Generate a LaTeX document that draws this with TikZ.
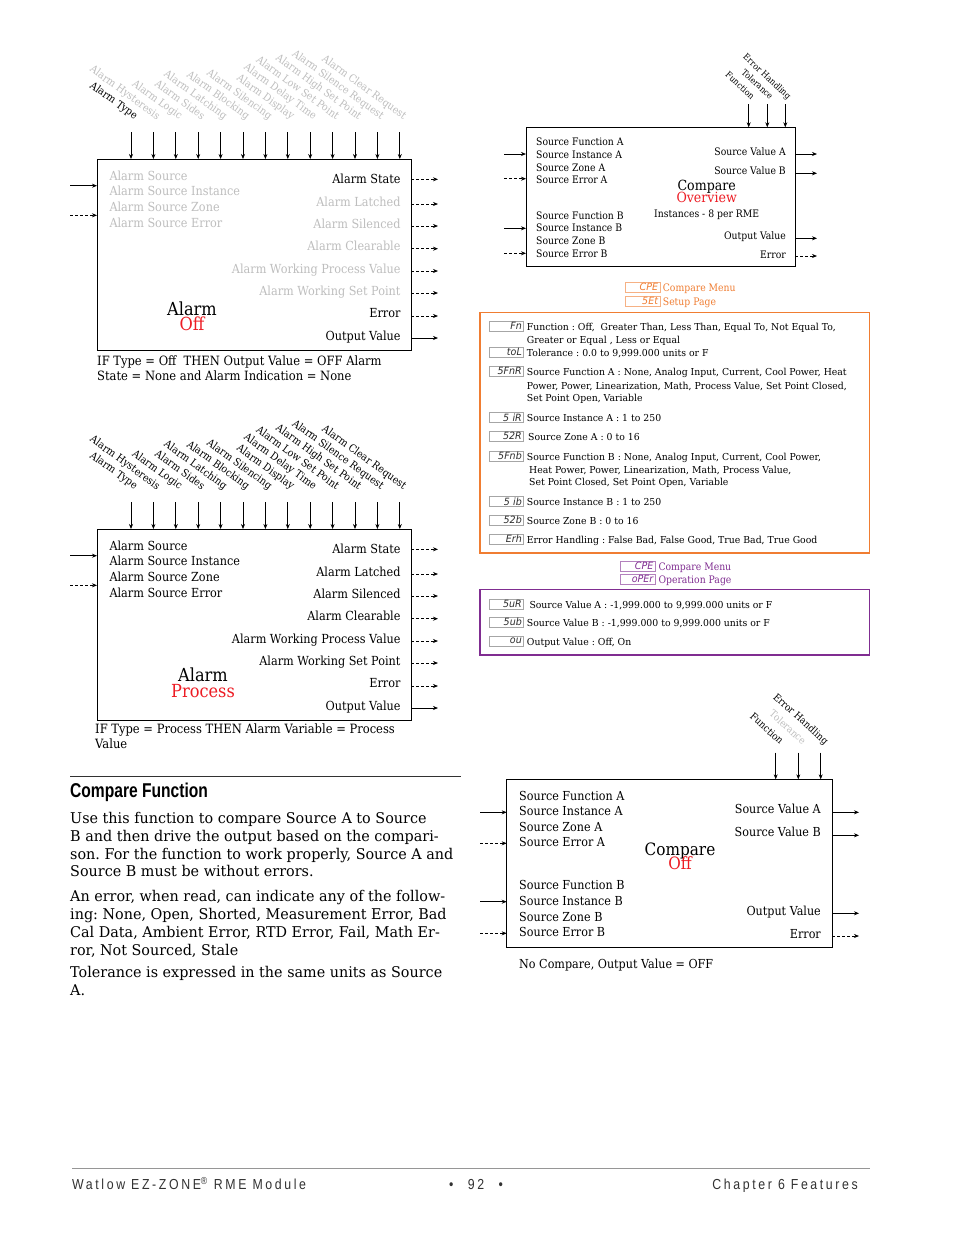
\documentclass[tikz,border=0pt]{standalone}
\usepackage{fontspec}
\usetikzlibrary{arrows.meta}
\setmainfont{DejaVu Serif}[FakeStretch=0.9]
\newfontfamily\wideserif{DejaVu Serif}[FakeStretch=0.97]
\newfontfamily\hdfont{Liberation Sans}[FakeStretch=0.78]
\newfontfamily\ftfont{Liberation Sans}[FakeStretch=0.85,LetterSpace=18]
\newfontfamily\segfont{DejaVu Sans}[FakeStretch=0.95]
\definecolor{lgray}{RGB}{190,190,190}
\definecolor{ored}{RGB}{237,28,36}
\definecolor{orng}{RGB}{240,125,50}
\definecolor{purp}{RGB}{128,45,145}
\definecolor{ftgray}{RGB}{150,150,150}
\definecolor{ftxt}{RGB}{50,50,50}
\definecolor{segc}{RGB}{45,45,45}
\newcommand\fsz[1]{\fontsize{#1}{#1}\selectfont}
\frenchspacing
\tikzset{
  box/.style={draw, line width=0.8pt, inner sep=0, outer sep=0, anchor=north west},
  arr/.style={-{Stealth[length=5pt,width=4pt]}, line width=0.7pt},
  darr/.style={arr, dash pattern=on 3pt off 2pt},
  lt/.style={anchor=west, inner sep=0, text height=0.92em, text depth=0.06em},
  rt/.style={lt, anchor=east},
  ct/.style={lt, anchor=center},
  rla/.style={anchor=base east, rotate=-36, inner sep=0, font=\fsz{10.6}},
  rlb/.style={anchor=base east, rotate=-43, inner sep=0, font=\fsz{8.8}},
  rlc/.style={anchor=base east, rotate=-42, inner sep=0, font=\fsz{10}},
  codebox/.style={draw=gray!70, line width=0.4pt, inner sep=0, minimum width=34pt, minimum height=10pt, text width=31pt, align=right, text=segc, font=\segfont\itshape\fsz{10}},
  hbox/.style={codebox, minimum width=35pt},
  itm/.style={lt, font=\wideserif\fsz{9.6}},
}
\begin{document}
\begin{tikzpicture}[x=1pt,y=-1pt]
\useasboundingbox[fill=white] (0,0) rectangle (954,1235);

% ---------------- Alarm blocks ----------------
\foreach \b/\dy/\gc in {1/0/lgray,2/370/black}{
\begin{scope}[yshift=-\dy pt]
  \node[box, minimum width=314pt, minimum height=191pt] (al\b) at (97,159) {};
  \foreach \i/\x/\cl/\tx in {1/131/black/Alarm Type, 2/153.4/\gc/Alarm Hysteresis, 3/175.8/\gc/Alarm Logic, 4/198.2/\gc/Alarm Sides, 5/220.6/\gc/Alarm Latching, 6/243/\gc/Alarm Blocking, 7/265.4/\gc/Alarm Silencing, 8/287.8/\gc/Alarm Display, 9/310.2/\gc/Alarm Delay Time, 10/332.6/\gc/Alarm Low Set Point, 11/355/\gc/Alarm High Set Point, 12/377.4/\gc/Alarm Silence Request, 13/399.8/\gc/Alarm Clear Request}{
    \coordinate (ta\b-\i) at (\x,132);
    \draw[arr] (ta\b-\i) -- (ta\b-\i |- al\b.north);
    \node[rla, text=\cl] (la\b-\i) at (\x+3.5,120) {\tx};
  }
  \foreach \n/\y/\tx in {1/176/Alarm Source, 2/191.5/Alarm Source Instance, 3/207/Alarm Source Zone, 4/223/Alarm Source Error}{
    \node[lt, font=\fsz{12.5}, text=\gc] (li\b-\n) at (109.3,\y) {\tx};
  }
  \coordinate (ia\b) at (70,185.7);
  \coordinate (ib\b) at (70,215.3);
  \draw[arr] (ia\b) -- (ia\b -| al\b.west);
  \draw[darr] (ib\b) -- (ib\b -| al\b.west);
  \foreach \n/\ty/\ay/\cl/\tx/\st in {1/179/179.3/black/Alarm State/darr, 2/202/204/\gc/Alarm Latched/darr, 3/224/226/\gc/Alarm Silenced/darr, 4/246/248.7/\gc/Alarm Clearable/darr, 5/269/271/\gc/Alarm Working Process Value/darr, 6/291/293/\gc/Alarm Working Set Point/darr, 7/313/316/black/Error/darr, 8/336/338/black/Output Value/arr}{
    \node[rt, font=\fsz{12.5}, text=\cl] (ro\b-\n) at (400.7,\ty) {\tx};
    \coordinate (oe\b-\n) at (438,\ay);
    \draw[\st] (oe\b-\n -| al\b.east) -- (oe\b-\n);
  }
\end{scope}}

\node[ct, font=\fsz{18}] (aln1) at (192,311) {Alarm};
\node[ct, font=\fsz{18}, text=ored] (alo1) at (192,326) {Off};
\node[lt, font=\fsz{12.8}] (cap1a) at (97,361) {IF Type = Off~ THEN Output Value = OFF Alarm};
\node[lt, font=\fsz{12.8}] (cap1b) at (97,376) {State = None and Alarm Indication = None};

\node[ct, font=\fsz{18}] (aln2) at (203,677) {Alarm};
\node[ct, font=\fsz{18}, text=ored] (alo2) at (203,692.7) {Process};
\node[lt, font=\fsz{12.8}] (cap2a) at (95,729) {IF Type = Process THEN Alarm Variable = Process};
\node[lt, font=\fsz{12.8}] (cap2b) at (95,744) {Value};

% ---------------- Compare overview (top right) ----------------
\node[box, minimum width=269.3pt, minimum height=138.7pt] (cp1) at (526,127.3) {};
\foreach \n/\x/\cl/\tx in {1/748.7/black/Function, 2/767.3/black/Tolerance, 3/785.3/black/Error Handling}{
  \coordinate (tc1-\n) at (\x,104);
  \draw[arr] (tc1-\n) -- (tc1-\n |- cp1.north);
  \node[rlb, text=\cl] (lc1-\n) at (\x+2.5,100) {\tx};
}
\foreach \n/\y/\tx in {1/140.7/Source Function A, 2/153.7/Source Instance A, 3/166.7/Source Zone A, 4/178.7/Source Error A, 5/214.7/Source Function B, 6/227.3/Source Instance B, 7/240.3/Source Zone B, 8/253.3/Source Error B}{
  \node[lt, font=\fsz{10.3}] (cl1-\n) at (536,\y) {\tx};
}
\foreach \n/\y/\st in {1/154/arr, 2/178.7/darr, 3/228.3/arr, 4/253.3/darr}{
  \coordinate (ci1-\n) at (504,\y);
  \draw[\st] (ci1-\n) -- (ci1-\n -| cp1.west);
}
\foreach \n/\ty/\ay/\tx/\st in {1/151/154/Source Value A/arr, 2/170.3/173.3/Source Value B/arr, 3/235.3/238.3/Output Value/arr, 4/254.3/256/Error/darr}{
  \node[rt, font=\fsz{10.3}] (cr1-\n) at (786,\ty) {\tx};
  \coordinate (co1-\n) at (817,\ay);
  \draw[\st] (co1-\n -| cp1.east) -- (co1-\n);
}
\node[ct, font=\fsz{14}] (cpn1) at (706.7,185.7) {Compare};
\node[ct, font=\fsz{14}, text=ored] (cpo1) at (706.7,198.3) {Overview};
\node[ct, font=\fsz{10.3}] (cpi1) at (706.7,212.7) {Instances - 8 per RME};

% ---------------- Orange setup menu ----------------
\node[hbox, draw=orng!60, text=orng] (hc1) at (642.5,287.3) {CPE};
\node[hbox, draw=orng!60, text=orng] (hc2) at (642.5,300.7) {5Et};
\node[itm, text=orng, font=\fsz{10.3}] (ht1) at (662.7,287.3) {Compare Menu};
\node[itm, text=orng, font=\fsz{10.3}] (ht2) at (662.7,300.7) {Setup Page};
\draw[orng, line width=1.5pt] (480,312.3) rectangle (869.5,553);
\foreach \n/\y/\cd in {1/325.7/Fn, 2/352.3/toL, 3/371.3/5FnR, 4/417.3/5 iR, 5/436/52R, 6/455.7/5Fnb, 7/501.3/5 ib, 8/520/52b, 9/539/Erh}{
  \node[codebox] (oc\n) at (506.3,\y) {\cd};
}
\foreach \n/\x/\y/\tx in {1/526.7/325.7/{Function : Off,~ Greater Than, Less Than, Equal To, Not Equal To,}, 2/526.7/338.7/{Greater or Equal , Less or Equal}, 3/526.7/352.3/{Tolerance : 0.0 to 9,999.000 units or F}, 4/526.7/371.3/{Source Function A : None, Analog Input, Current, Cool Power, Heat}, 5/526.7/384.7/{Power, Power, Linearization, Math, Process Value, Set Point Closed,}, 6/526.7/397.3/{Set Point Open, Variable}, 7/526.7/417.3/{Source Instance A : 1 to 250}, 8/528/436/{Source Zone A : 0 to 16}, 9/526.7/455.7/{Source Function B : None, Analog Input, Current, Cool Power,}, 10/529/468.7/{Heat Power, Power, Linearization, Math, Process Value,}, 11/529/481.3/{Set Point Closed, Set Point Open, Variable}, 12/526.7/501.3/{Source Instance B : 1 to 250}, 13/526.7/520/{Source Zone B : 0 to 16}, 14/526.7/539/{Error Handling : False Bad, False Good, True Bad, True Good}}{
  \node[itm] (ot\n) at (\x,\y) {\tx};
}

% ---------------- Purple operation menu ----------------
\node[hbox, draw=purp!60, text=purp] (pc1) at (637.8,565.7) {CPE};
\node[hbox, draw=purp!60, text=purp] (pc2) at (637.8,579) {oPEr};
\node[itm, text=purp, font=\fsz{10.3}] (pt1) at (658.3,565.7) {Compare Menu};
\node[itm, text=purp, font=\fsz{10.3}] (pt2) at (658.3,579) {Operation Page};
\draw[purp, line width=1.5pt] (480,589.3) rectangle (869.3,655);
\foreach \n/\y/\cd in {1/604.3/5uR, 2/621.7/5ub, 3/640.7/ou}{
  \node[codebox] (qc\n) at (506.3,\y) {\cd};
}
\node[itm] (qt1) at (529.3,604.3) {Source Value A : -1,999.000 to 9,999.000 units or F};
\node[itm] (qt2) at (526.7,621.7) {Source Value B : -1,999.000 to 9,999.000 units or F};
\node[itm] (qt3) at (526.7,640.7) {Output Value : Off, On};

% ---------------- Compare Off (bottom right) ----------------
\node[box, minimum width=325.6pt, minimum height=168pt] (cp2) at (506.7,779.3) {};
\foreach \n/\x/\cl/\tx in {1/775.7/black/Function, 2/798.3/lgray/Tolerance, 3/820.7/black/Error Handling}{
  \coordinate (tc2-\n) at (\x,752.7);
  \draw[arr] (tc2-\n) -- (tc2-\n |- cp2.north);
  \node[rlc, text=\cl] (lc2-\n) at (\x+4,745) {\tx};
}
\foreach \n/\y/\tx in {1/796/Source Function A, 2/811/Source Instance A, 3/827/Source Zone A, 4/842/Source Error A, 5/885/Source Function B, 6/901/Source Instance B, 7/917/Source Zone B, 8/932/Source Error B}{
  \node[lt, font=\fsz{12.4}] (cl2-\n) at (519,\y) {\tx};
}
\foreach \n/\y/\st in {1/812.3/arr, 2/843.3/darr, 3/901.7/arr, 4/933.3/darr}{
  \coordinate (ci2-\n) at (480,\y);
  \draw[\st] (ci2-\n) -- (ci2-\n -| cp2.west);
}
\foreach \n/\ty/\ay/\tx/\st in {1/808.7/812.3/Source Value A/arr, 2/832/835.3/Source Value B/arr, 3/911/913.3/Output Value/arr, 4/934/936/Error/darr}{
  \node[rt, font=\fsz{12.4}] (cr2-\n) at (821,\ty) {\tx};
  \coordinate (co2-\n) at (859,\ay);
  \draw[\st] (co2-\n -| cp2.east) -- (co2-\n);
}
\node[ct, font=\fsz{17}] (cpn2) at (680,851) {Compare};
\node[ct, font=\fsz{17}, text=ored] (cpo2) at (680,865) {Off};
\node[lt, font=\fsz{12.4}] (cap3) at (519,964) {No Compare, Output Value = OFF};

% ---------------- Compare Function text ----------------
\draw[ftxt, line width=1pt] (70,776) -- (461,776);
\node[lt, font=\hdfont\bfseries\fsz{20}] (hd) at (70,793.3) {Compare Function};
\foreach \n/\y/\tx in {1/819.3/{Use this function to compare Source A to Source}, 2/837/{B and then drive the output based on the compari-}, 3/855/{son. For the function to work properly, Source A and}, 4/872.3/{Source B must be without errors.}, 5/896.7/{An error, when read, can indicate any of the follow-}, 6/914.7/{ing: None, Open, Shorted, Measurement Error, Bad}, 7/932.7/{Cal Data, Ambient Error, RTD Error, Fail, Math Er-}, 8/950.7/{ror, Not Sourced, Stale}, 9/973.3/{Tolerance is expressed in the same units as Source}, 10/991.3/{A.}}{
  \node[lt, font=\wideserif\fsz{14.8}] (bt\n) at (70,\y) {\tx};
}

% ---------------- Footer ----------------
\draw[ftgray, line width=0.8pt] (72,1168) -- (870,1168);
\node[lt, font=\ftfont\fsz{14.5}, text=ftxt] (f1) at (72,1185) {Watlow EZ-ZONE\textsuperscript{®} RME Module};
\node[ct, font=\ftfont\fsz{14.5}, text=ftxt] (f2) at (476,1185) {•\quad 92\quad •};
\node[rt, font=\ftfont\fsz{14.5}, text=ftxt] (f3) at (858,1185) {Chapter 6 Features};
\end{tikzpicture}
\end{document}
